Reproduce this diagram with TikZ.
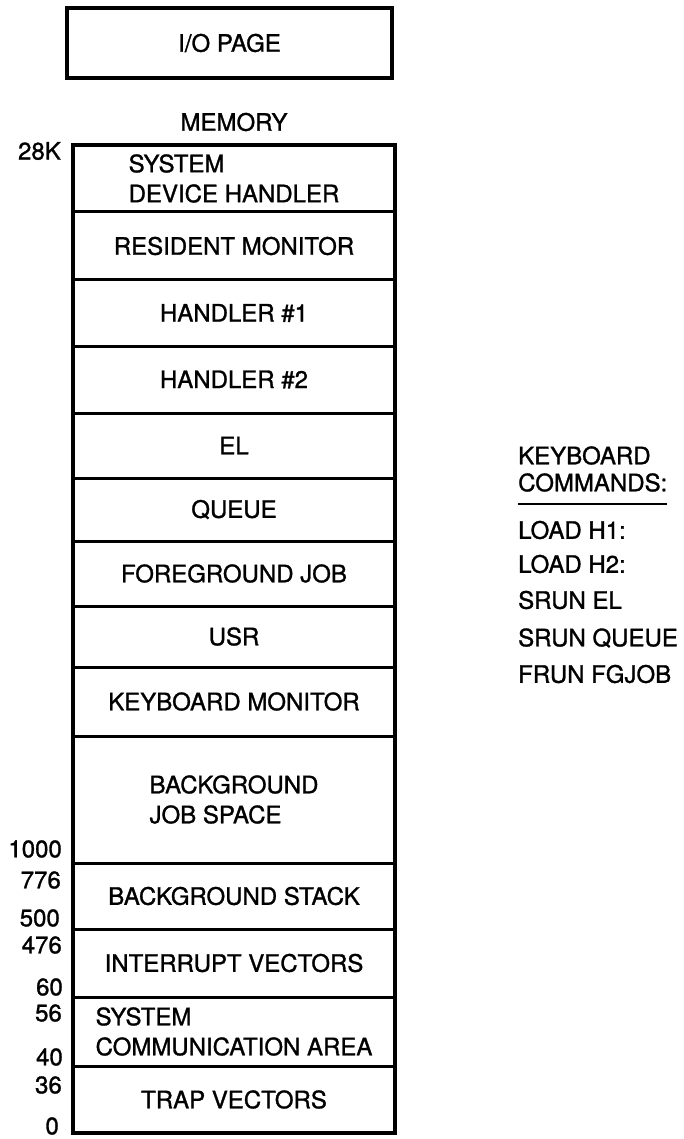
\documentclass[tikz,border=0pt]{standalone}
\usepackage{fontspec}
\setmainfont{TeX Gyre Heros}[UprightFeatures={FakeBold=1.2}]
\usepackage{tikz}
\usetikzlibrary{positioning}

\begin{document}
\begin{tikzpicture}[
    x=1pt, y=1pt,
    font=\fontsize{24}{30}\selectfont,
    cell/.style={rectangle,draw=black,line width=3pt,align=center,minimum width=322,outer sep=0pt,inner sep=0pt},
    addr/.style={anchor=east,inner sep=0pt},
    cmd/.style={anchor=west,inner sep=0pt}
]
\useasboundingbox (0,0) rectangle (684,-1139);

\node[rectangle,draw=black,line width=4pt,minimum width=325,minimum height=70] (io) at (229.5,-43) {I/O PAGE};
\node (mem) at (234,-122) {MEMORY};

% memory map, top to bottom
\node[cell, minimum height=67, align=left] (sdh) at (234,-178.5) {SYSTEM\\DEVICE HANDLER};
\node[cell, minimum height=68, below=0pt of sdh] (resmon) {RESIDENT MONITOR};
\node[cell, minimum height=66, below=0pt of resmon] (hone) {HANDLER \#1};
\node[cell, minimum height=67, below=0pt of hone] (htwo) {HANDLER \#2};
\node[cell, minimum height=65, below=0pt of htwo] (el) {EL};
\node[cell, minimum height=63, below=0pt of el] (queue) {QUEUE};
\node[cell, minimum height=65, below=0pt of queue] (fgjob) {FOREGROUND JOB};
\node[cell, minimum height=61, below=0pt of fgjob] (usr) {USR};
\node[cell, minimum height=69, below=0pt of usr] (kmon) {KEYBOARD MONITOR};
\node[cell, minimum height=127, below=0pt of kmon, align=left] (bgjob) {BACKGROUND\\JOB SPACE};
\node[cell, minimum height=66, below=0pt of bgjob] (bgstack) {BACKGROUND STACK};
\node[cell, minimum height=68, below=0pt of bgstack] (intvec) {INTERRUPT VECTORS};
\node[cell, minimum height=69, below=0pt of intvec, align=left] (sca) {SYSTEM\\COMMUNICATION AREA};
\node[cell, minimum height=67, below=0pt of sca] (trap) {TRAP VECTORS};

\draw[line width=4.5pt] (sdh.north west) rectangle (trap.south east);

% addresses
\node[addr] (aTop) at (61,-151) {28K};
\node[addr] (aBgjob) at (62,-849) {1000};
\node[addr] (aBgtop) at (61,-880) {776};
\node[addr] (aStack) at (60,-918) {500};
\node[addr] (aVectop) at (62,-945) {476};
\node[addr] (aVec) at (63,-987) {60};
\node[addr] (aScatop) at (62,-1013) {56};
\node[addr] (aSca) at (63,-1057) {40};
\node[addr] (aTraptop) at (62,-1085) {36};
\node[addr] (aZero) at (59,-1126) {0};

% keyboard commands
\node[cmd, align=left, font=\fontsize{24}{27}\selectfont] (kbhead) at (518,-469) {KEYBOARD\\COMMANDS:};
\draw[line width=2pt] ([yshift=-12]kbhead.south west) -- ([yshift=-12]kbhead.south east);
\node[cmd] (lhone) at (518,-530) {LOAD H1:};
\node[cmd] (lhtwo) at (518,-564) {LOAD H2:};
\node[cmd] (srunel) at (518,-600) {SRUN EL};
\node[cmd] (srunq) at (518,-638) {SRUN QUEUE};
\node[cmd] (frunfg) at (518,-674) {FRUN FGJOB};

\end{tikzpicture}
\end{document}
